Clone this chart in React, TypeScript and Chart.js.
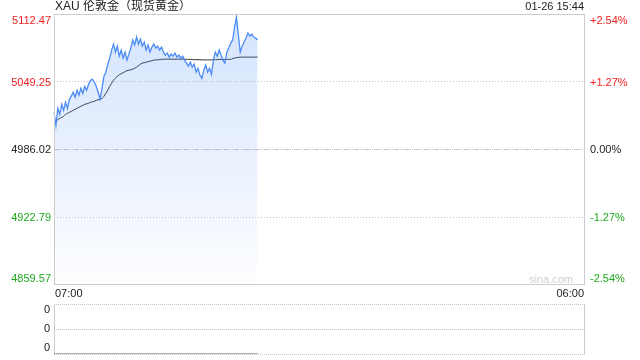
import React, { useEffect, useRef } from "react";
import { Chart, registerables } from "chart.js";

Chart.register(...registerables);

const TITLE = "XAU 伦敦金（现货黄金）";
const STAMP = "01-26 15:44";
const WATERMARK = "sina.com";
const SESSION_START = "07:00";
const SESSION_END = "06:00";
const STEP_MINUTES = 5;
const SESSION_MINUTES = 1380;

const PREV_CLOSE = 4986.02;
const PRICE_TICKS = [5112.47, 5049.25, 4986.02, 4922.79, 4859.57];
const PCT_TICKS = ["+2.54%", "+1.27%", "0.00%", "-1.27%", "-2.54%"];
const VOLUME_TICKS = [1, 0.5, 0];
const VOLUME_TICK_LABELS = ["0", "0", "0"];

const PRICE = [
  5021.3, 5009.1, 5025.0, 5019.4, 5028.8, 5023.2, 5030.7, 5025.0, 5033.5, 5036.3,
  5040.1, 5035.4, 5042.0, 5037.3, 5043.8, 5039.1, 5045.7, 5042.0, 5047.6, 5051.4,
  5052.3, 5049.5, 5045.7, 5040.1, 5033.5, 5043.8, 5055.1, 5058.9, 5066.4, 5072.1,
  5079.6, 5085.2, 5077.7, 5083.3, 5073.9, 5079.6, 5072.1, 5077.7, 5070.2, 5075.8,
  5081.5, 5089.0, 5084.3, 5091.8, 5085.2, 5089.9, 5083.3, 5087.1, 5079.6, 5084.3,
  5077.7, 5082.4, 5085.2, 5081.5, 5083.3, 5079.6, 5082.4, 5077.7, 5074.9, 5076.8,
  5073.0, 5075.8, 5073.9, 5076.8, 5073.0, 5074.9, 5072.1, 5073.9, 5070.2, 5067.4,
  5064.5, 5068.3, 5063.6, 5066.4, 5058.9, 5062.6, 5056.1, 5053.2, 5060.8, 5065.5,
  5058.9, 5062.6, 5057.0, 5070.2, 5077.7, 5073.9, 5079.6, 5074.9, 5070.2, 5067.4,
  5077.7, 5081.5, 5086.2, 5089.0, 5100.3, 5110.6, 5093.7, 5077.7, 5083.3, 5087.1,
  5090.9, 5095.6, 5092.7, 5094.6, 5091.8, 5090.9, 5089.0,
];

const AVERAGE = [
  5013.8, 5012.8, 5014.7, 5015.6, 5016.6, 5017.5, 5019.4, 5020.3, 5021.3, 5022.2,
  5023.2, 5024.1, 5025.0, 5026.0, 5026.9, 5027.9, 5028.8, 5029.3, 5029.7, 5030.7,
  5031.2, 5031.6, 5032.6, 5033.0, 5033.5, 5034.4, 5036.3, 5039.1, 5042.0, 5045.7,
  5048.5, 5051.4, 5053.2, 5055.1, 5056.5, 5057.5, 5058.4, 5059.4, 5060.3, 5060.8,
  5061.2, 5061.7, 5062.6, 5063.6, 5065.0, 5066.4, 5067.4, 5067.8, 5068.3, 5068.8,
  5069.2, 5069.7, 5070.2, 5070.4, 5070.5, 5070.7, 5070.9, 5071.1, 5071.1, 5071.1,
  5071.1, 5071.1, 5071.1, 5071.1, 5071.1, 5071.1, 5071.1, 5071.1, 5071.1, 5070.9,
  5070.9, 5070.9, 5070.9, 5070.6, 5070.6, 5070.6, 5070.6, 5070.4, 5070.4, 5070.4,
  5070.4, 5070.4, 5070.4, 5070.6, 5070.6, 5070.6, 5070.9, 5070.9, 5070.9, 5070.9,
  5070.9, 5070.9, 5070.9, 5071.6, 5072.1, 5072.5, 5072.8, 5073.0, 5073.0, 5073.0,
  5073.0, 5073.0, 5073.0, 5073.0, 5073.0, 5073.0, 5073.0,
];

const VOLUME = [
  0, 0, 0, 0, 0, 0, 0, 0, 0, 0, 0, 0, 0, 0, 0, 0, 0, 0, 0, 0,
  0, 0, 0, 0, 0, 0, 0, 0, 0, 0, 0, 0, 0, 0, 0, 0, 0, 0, 0, 0,
  0, 0, 0, 0, 0, 0, 0, 0, 0, 0, 0, 0, 0, 0, 0, 0, 0, 0, 0, 0,
  0, 0, 0, 0, 0, 0, 0, 0, 0, 0, 0, 0, 0, 0, 0, 0, 0, 0, 0, 0,
  0, 0, 0, 0, 0, 0, 0, 0, 0, 0, 0, 0, 0, 0, 0, 0, 0, 0, 0, 0,
  0, 0, 0, 0, 0, 0, 0,
];

function buildTimeLabels(): string[] {
  const [h0, m0] = SESSION_START.split(":").map(Number);
  const out: string[] = [];
  for (let t = 0; t <= SESSION_MINUTES; t += STEP_MINUTES) {
    const total = (h0 * 60 + m0 + t) % 1440;
    const hh = String(Math.floor(total / 60)).padStart(2, "0");
    const mm = String(total % 60).padStart(2, "0");
    out.push(`${hh}:${mm}`);
  }
  return out;
}

const TIMES = buildTimeLabels();

const FONT = '"Liberation Sans", Arial, "Noto Sans CJK SC", sans-serif';
const RED = "#f02020";
const GREEN = "#1faa1f";
const DARK = "#222222";
const FRAME = "#cccccc";
const GRID = "#c4c4c4";
const LINE_BLUE = "#4b8bf5";

function tickColor(i: number, n: number) {
  const mid = (n - 1) / 2;
  if (i < mid) return RED;
  if (i > mid) return GREEN;
  return DARK;
}

const mainDeco = {
  id: "mainDeco",
  beforeDatasetsDraw(chart: any) {
    const { ctx, chartArea: a, scales } = chart;
    const y = scales.y;
    ctx.save();
    ctx.lineWidth = 1;
    ctx.strokeStyle = GRID;
    PRICE_TICKS.forEach((v, i) => {
      if (i === 0 || i === PRICE_TICKS.length - 1) return;
      const py = Math.round(y.getPixelForValue(v)) - 0.5;
      ctx.setLineDash(v === PREV_CLOSE ? [5, 1, 1, 1, 1, 1] : [1, 2]);
      ctx.beginPath();
      ctx.moveTo(a.left, py);
      ctx.lineTo(a.right, py);
      ctx.stroke();
    });
    ctx.restore();
  },
  afterDraw(chart: any) {
    const { ctx, chartArea: a, scales } = chart;
    const x = scales.x;
    const y = scales.y;
    ctx.save();
    ctx.strokeStyle = FRAME;
    ctx.lineWidth = 1;
    ctx.setLineDash([]);
    ctx.strokeRect(a.left + 0.5, a.top - 0.5, a.right - a.left, a.bottom - a.top);

    ctx.textBaseline = "middle";
    ctx.fillStyle = DARK;
    ctx.font = `12px ${FONT}`;
    ctx.textAlign = "left";
    ctx.fillText(TITLE, a.left + 1, 7);
    ctx.font = `11px ${FONT}`;
    ctx.textAlign = "right";
    ctx.fillText(STAMP, a.right, 7);

    const n = PRICE_TICKS.length;
    PRICE_TICKS.forEach((v, i) => {
      let py = y.getPixelForValue(v);
      if (i === 0) py += 6;
      if (i === n - 1) py -= 6.5;
      ctx.fillStyle = tickColor(i, n);
      ctx.textAlign = "right";
      ctx.fillText(v.toFixed(2), a.left - 3, py);
      ctx.textAlign = "left";
      ctx.fillText(PCT_TICKS[i], a.right + 6, py);
    });

    ctx.fillStyle = "#d0d0d0";
    ctx.textAlign = "right";
    ctx.fillText(WATERMARK, a.right - 11, a.bottom - 5.5);

    ctx.fillStyle = DARK;
    ctx.textAlign = "left";
    ctx.fillText(TIMES[0], x.getPixelForValue(0) + 1, a.bottom + 9);
    ctx.textAlign = "right";
    ctx.fillText(SESSION_END, x.getPixelForValue(TIMES.length - 1), a.bottom + 9);
    ctx.restore();
  },
};

const volDeco = {
  id: "volDeco",
  beforeDatasetsDraw(chart: any) {
    const { ctx, chartArea: a, scales } = chart;
    const y = scales.y;
    ctx.save();
    ctx.lineWidth = 1;
    ctx.strokeStyle = GRID;
    ctx.setLineDash([1, 1]);
    VOLUME_TICKS.forEach((v) => {
      const py = Math.round(y.getPixelForValue(v)) + 0.5;
      ctx.beginPath();
      ctx.moveTo(a.left, py);
      ctx.lineTo(a.right, py);
      ctx.stroke();
    });
    ctx.setLineDash([]);
    ctx.strokeStyle = FRAME;
    ctx.beginPath();
    ctx.moveTo(a.left + 0.5, a.top);
    ctx.lineTo(a.left + 0.5, a.bottom + 1);
    ctx.moveTo(a.right + 0.5, a.top);
    ctx.lineTo(a.right + 0.5, a.bottom + 1);
    ctx.stroke();
    ctx.restore();
  },
  afterDraw(chart: any) {
    const { ctx, chartArea: a, scales } = chart;
    const y = scales.y;
    ctx.save();
    ctx.font = `11px ${FONT}`;
    ctx.fillStyle = DARK;
    ctx.textAlign = "right";
    ctx.textBaseline = "middle";
    VOLUME_TICKS.forEach((v, i) => {
      let py = y.getPixelForValue(v);
      if (i === 0) py += 6;
      if (i === VOLUME_TICKS.length - 1) py -= 6;
      ctx.fillText(VOLUME_TICK_LABELS[i], a.left - 4, py);
    });
    ctx.restore();
  },
};

export default function App() {
  const mainRef = useRef<HTMLCanvasElement | null>(null);
  const volRef = useRef<HTMLCanvasElement | null>(null);

  useEffect(() => {
    const main = new Chart(mainRef.current as HTMLCanvasElement, {
      type: "line",
      data: {
        labels: TIMES,
        datasets: [
          {
            data: PRICE,
            borderColor: LINE_BLUE,
            borderWidth: 1.3,
            pointRadius: 0,
            tension: 0,
            fill: "start",
            backgroundColor: (c: any) => {
              const { chart } = c;
              const area = chart.chartArea;
              if (!area) return "rgba(74,138,244,0.15)";
              const g = chart.ctx.createLinearGradient(0, area.top, 0, area.bottom);
              g.addColorStop(0, "rgba(74,138,244,0.24)");
              g.addColorStop(1, "rgba(74,138,244,0.01)");
              return g;
            },
          },
          {
            data: AVERAGE,
            borderColor: "#333333",
            borderWidth: 1,
            pointRadius: 0,
            tension: 0.3,
            fill: false,
          },
        ],
      },
      options: {
        animation: false,
        responsive: false,
        devicePixelRatio: 1,
        events: [],
        layout: { padding: { left: 54, right: 56, top: 15, bottom: 15 } },
        plugins: { legend: { display: false }, tooltip: { enabled: false } },
        scales: {
          x: { display: false, offset: false },
          y: { display: false, min: PRICE_TICKS[PRICE_TICKS.length - 1], max: PRICE_TICKS[0] },
        },
      },
      plugins: [mainDeco],
    } as any);

    const vol = new Chart(volRef.current as HTMLCanvasElement, {
      type: "line",
      data: {
        labels: TIMES,
        datasets: [
          {
            data: VOLUME,
            borderColor: "#555555",
            borderWidth: 1,
            pointRadius: 0,
            fill: false,
          },
        ],
      },
      options: {
        animation: false,
        responsive: false,
        devicePixelRatio: 1,
        events: [],
        layout: { padding: { left: 54, right: 56, top: 4, bottom: 6 } },
        plugins: { legend: { display: false }, tooltip: { enabled: false } },
        scales: {
          x: { display: false, offset: false },
          y: { display: false, min: 0, max: 1 },
        },
      },
      plugins: [volDeco],
    } as any);

    return () => {
      main.destroy();
      vol.destroy();
    };
  }, []);

  return (
    <div style={{ position: "absolute", left: 0, top: 0, width: 640, height: 360, background: "#fff" }}>
      <canvas ref={mainRef} width={640} height={300} style={{ position: "absolute", left: 0, top: 0, width: 640, height: 300 }} />
      <canvas ref={volRef} width={640} height={60} style={{ position: "absolute", left: 0, top: 300, width: 640, height: 60 }} />
    </div>
  );
}
